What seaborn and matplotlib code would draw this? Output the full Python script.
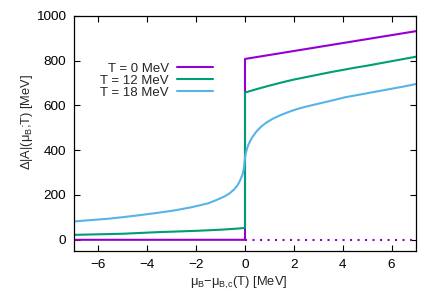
import numpy as np
import pandas as pd
import matplotlib
matplotlib.use("Agg")
import matplotlib.pyplot as plt
import seaborn as sns

# ---- data ----
labels = ["T = 0 MeV", "T = 12 MeV", "T = 18 MeV"]
colors = ["#9400d3", "#009e73", "#56b4e9"]

t0_x = [-7, 0, 0, 7]
t0_y = [0, 0, 807, 931]

t0_dot_x = [0, 7]
t0_dot_y = [0, 0]

t12_x = [-7, -5, -3.6, -2, -1, -0.3, 0, 0, 0.5, 1, 1.5, 2, 2.5, 3, 3.5, 4, 4.5, 5, 5.5, 6, 6.5, 7]
t12_y = [22, 27, 34, 40, 45, 50, 53, 657, 673, 688, 702, 715, 726, 737, 748, 758, 768, 777, 787, 797, 807, 817]

t18_x = [-7, -6.3, -5.6, -5.0, -4.3, -3.6, -2.9, -2.2, -1.5, -1.2, -0.85, -0.65, -0.45,
         -0.3, -0.2, -0.1, -0.05, 0, 0.03, 0.07, 0.13, 0.2,
         0.3, 0.48, 0.68, 0.89, 1.15, 1.43, 1.7, 1.98, 2.25, 2.53, 2.8, 3.07, 3.5,
         4.1, 4.6, 5.1, 5.5, 6.0, 6.5, 7]
t18_y = [82, 88, 94, 101, 110, 120, 131, 145, 163, 176, 193, 206, 224,
         244, 265, 292, 318, 365, 385, 402, 422, 438,
         458, 485, 507, 524, 541, 555, 567, 578, 587, 595, 602, 609, 620,
         636, 646, 656, 664, 674, 684, 695]

xticks = [-6, -4, -2, 0, 2, 4, 6]
yticks = [0, 200, 400, 600, 800, 1000]

sns.set_style("ticks")
plt.rcParams["font.family"] = ["Liberation Sans", "DejaVu Sans"]
plt.rcParams["mathtext.default"] = "regular"
plt.rcParams["font.size"] = 9.7

fig = plt.figure(figsize=(4.4, 3.08), dpi=100)
ax = fig.add_axes([74 / 440, 57 / 308, 342 / 440, 235.3 / 308])

series = [(t0_x, t0_y), (t12_x, t12_y), (t18_x, t18_y)]
for (xs, ys), lab, col in zip(series, labels, colors):
    df = pd.DataFrame({"x": xs, "y": ys})
    sns.lineplot(data=df, x="x", y="y", sort=False, estimator=None, color=col,
                 linewidth=1.5, label=lab, ax=ax)

dfd = pd.DataFrame({"x": t0_dot_x, "y": t0_dot_y})
sns.lineplot(data=dfd, x="x", y="y", sort=False, estimator=None, color=colors[0],
             linewidth=1.5, linestyle=(0, (1, 2.6)), ax=ax)

ax.set_xlim(-7, 7)
ax.set_ylim(-50, 1000)
ax.set_xticks(xticks)
ax.set_yticks(yticks)
ax.set_xticklabels([str(v).replace("-", "\u2212") for v in xticks])
ax.tick_params(direction="in", top=True, right=True, length=4, width=0.8,
               labelsize=9.7, colors="black")
ax.tick_params(axis="y", pad=5.5)
ax.tick_params(axis="x", pad=6)
for sp in ax.spines.values():
    sp.set_visible(True)
    sp.set_color("black")
    sp.set_linewidth(0.9)

ax.set_xlabel(r"$\mu_{B}$−$\mu_{B,\!c}$(T) [MeV]", fontsize=9.3)
ax.set_ylabel(r"Δ|A|($\mu_{B}$;T) [MeV]", fontsize=9.3)
ax.xaxis.set_label_coords(0.483, -0.10)
ax.yaxis.set_label_coords(-0.115, 0.548)

ax.legend(loc="upper right", bbox_to_anchor=(0.405, 0.80), frameon=False,
          markerfirst=False, handlelength=2.7, handletextpad=0.6,
          labelspacing=-0.02, borderpad=0, borderaxespad=0, fontsize=9.5)

fig.savefig("out.png", dpi=100)
